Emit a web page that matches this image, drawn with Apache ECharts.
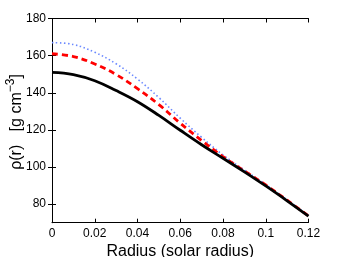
<!DOCTYPE html>
<html><head><meta charset="utf-8">
<script src="https://cdn.jsdelivr.net/npm/echarts@6/dist/echarts.min.js"></script>
<style>html,body{margin:0;padding:0;background:#fff}#c{width:341px;height:257px}</style>
</head><body><div id="c"></div>
<script>
const radius = [0, 0.01, 0.02, 0.03, 0.04, 0.05, 0.06, 0.07, 0.08, 0.09, 0.10, 0.11, 0.12];
const rhoBlack = [151, 149.8, 146.5, 141.2, 135.2, 127.8, 119.8, 112, 104.7, 97.4, 89.8, 81.8, 73.5];
const rhoRed   = [161, 159.5, 155.5, 149.8, 142.2, 133.6, 123.6, 114.3, 105.6, 97.9, 90.3, 82.1, 73.7];
const rhoBlue  = [167, 166, 161.8, 155.6, 147.4, 137.4, 126.3, 116, 106.5, 98.4, 90.6, 82.3, 73.8];
const xTicks = [0, 0.02, 0.04, 0.06, 0.08, 0.1, 0.12];
const yTicks = [80, 100, 120, 140, 160, 180];

const pairs = ys => radius.map((r, i) => [r, ys[i]]);
const font = 'Liberation Sans, Arial, Helvetica, sans-serif';
const chart = echarts.init(document.getElementById('c'), null, {renderer: 'canvas'});
const axisCommon = {
  axisLine: {show: true, lineStyle: {color: '#000', width: 1}},
  splitLine: {show: false},
};
chart.setOption({
  animation: false,
  backgroundColor: '#fff',
  grid: {left: 52, right: 32.5, top: 18.5, bottom: 34.3, containLabel: false, outerBoundsMode: 'none'},
  xAxis: [{
    type: 'value', min: 0, max: 0.12, ...axisCommon,
    axisTick: {show: true, inside: true, length: 4, customValues: xTicks, lineStyle: {color: '#000'}},
    axisLabel: {customValues: xTicks, color: '#000', fontSize: 12, fontFamily: font, margin: 5,
      formatter: v => String(+v.toFixed(2))},
    name: 'Radius (solar radius)', nameLocation: 'middle', nameGap: 20.5, nameMoveOverlap: false,
    nameTextStyle: {fontSize: 16, color: '#000', fontFamily: font}
  }, {
    type: 'value', min: 0, max: 0.12, position: 'top', ...axisCommon,
    axisTick: {show: true, inside: true, length: 4, customValues: xTicks, lineStyle: {color: '#000'}},
    axisLabel: {show: false}
  }],
  yAxis: [{
    type: 'value', min: 70, max: 180, ...axisCommon,
    axisTick: {show: true, inside: true, length: 4, customValues: yTicks, lineStyle: {color: '#000'}},
    axisLabel: {customValues: yTicks, color: '#000', fontSize: 12, fontFamily: font, margin: 6}
  }, {
    type: 'value', min: 70, max: 180, position: 'right', ...axisCommon,
    axisTick: {show: true, inside: true, length: 4, customValues: yTicks, lineStyle: {color: '#000'}},
    axisLabel: {show: false}
  }],
  graphic: [{
    type: 'text', x: 15, y: 122, rotation: Math.PI / 2,
    style: {
      text: '{a|ρ(r)   [g cm}{s|−3}{a|]}',
      fill: '#000', align: 'center', verticalAlign: 'middle',
      rich: {
        a: {fontSize: 16, fontFamily: font, fill: '#000', verticalAlign: 'bottom'},
        s: {fontSize: 12, fontFamily: font, fill: '#000', verticalAlign: 'top', padding: [0, 0, 8, 0]}
      }
    }
  }],
  series: [{
    type: 'line', data: pairs(rhoBlue), smooth: 0.4, showSymbol: false,
    lineStyle: {color: '#6a88ff', width: 1.6, type: [1.5, 2.5]}, z: 1
  }, {
    type: 'line', data: pairs(rhoRed), smooth: 0.4, showSymbol: false,
    lineStyle: {color: '#ff0000', width: 2.8, type: [6, 4]}, z: 2
  }, {
    type: 'line', data: pairs(rhoBlack), smooth: 0.4, showSymbol: false,
    lineStyle: {color: '#000', width: 2.8}, z: 3
  }]
});
</script></body></html>
